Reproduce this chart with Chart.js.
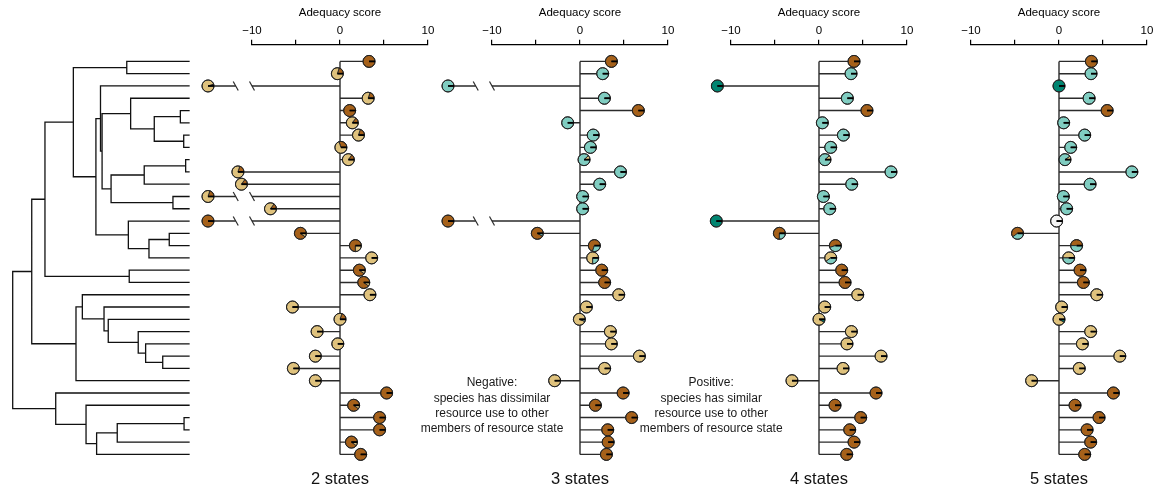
<!DOCTYPE html>
<html><head><meta charset="utf-8">
<script src="https://cdn.jsdelivr.net/npm/chart.js@4.4.1/dist/chart.umd.min.js"></script>
<style>
html,body{margin:0;padding:0;background:#fff;overflow:hidden;width:1154px;height:490px}
#wrap{position:relative;width:1154px;height:490px;overflow:hidden;background:#fff}
canvas{position:absolute;top:0}
</style></head><body><div id="wrap"></div>
<script>
// ---------------- data ----------------
const panelTitles = ["2 states", "3 states", "4 states", "5 states"];
const axisTitle = "Adequacy score";
const tickValues = [-10, -5, 0, 5, 10];
const tickLabels = ["\u221210", "", "0", "", "10"];

// adequacy score per species (rows top to bottom); values far below the axis are shown with a break
const score2 = [3.3, -0.3, -20, 3.2, 1.1, 1.4, 2.1, 0.1, 0.95, -11.6, -11.2, -20, -7.9, -20, -4.5, 1.75, 3.6, 2.2, 2.7, 3.4, -5.4, 0.0, -2.6, -0.25, -2.8, -5.3, -2.8, 5.3, 1.55, 4.5, 4.5, 1.3, 2.35];
const score3 = [3.57, 2.58, -20, 2.77, 6.63, -1.4, 1.5, 1.18, 0.46, 4.6, 2.24, 0.3, 0.3, -20, -4.85, 1.63, 1.44, 2.47, 2.8, 4.4, 0.72, -0.07, 3.45, 3.56, 6.75, 2.8, -2.88, 4.9, 1.75, 5.87, 3.15, 3.2, 3.0];
const score4 = [3.98, 3.64, -11.55, 3.22, 5.45, 0.38, 2.77, 1.33, 0.68, 8.18, 3.72, 0.5, 1.22, -11.67, -4.5, 1.86, 1.33, 2.58, 2.96, 4.4, 0.65, 0.0, 3.68, 3.18, 7.05, 2.73, -3.07, 6.48, 1.82, 4.74, 3.49, 3.98, 3.15];
const score5 = [3.68, 3.64, 0.0, 3.42, 5.47, 0.53, 2.92, 1.33, 0.68, 8.28, 3.53, 0.49, 0.87, -0.27, -4.71, 2.0, 1.1, 2.39, 2.77, 4.29, 0.3, 0.0, 3.6, 2.66, 6.91, 2.3, -3.11, 6.18, 1.82, 4.55, 3.19, 3.6, 2.92];

// resource-state composition of each pie (B brown, T tan, C teal, D dark teal, W white)
const pie2 = ["B", "T.8 B.2", "T.95 B.05", "T.8 B.2", "B", "T.85 B.15", "T.8 B.2", "T.7 B.3", "T.85 B.15", "T.8 B.2", "T.85 B.15", "T.8 B.2", "T.85 B.15", "B", "B.9 T.1", "B.75 T.25", "T", "B.9 T.1", "B.9 T.1", "T", "T", "T.8 B.2", "T", "T", "T", "T", "T", "B", "B.9 T.1", "B", "B", "B.9 T.1", "B"];
const pie3 = ["B", "C", "C", "C", "B", "C", "C", "C", "T.12 C.88", "C", "C", "C", "C", "B", "B.92 C.08", "B.7 C.3", "T.75 C.25", "B", "B", "T", "T", "T.94 C.06", "T", "T", "T", "T", "T", "B", "B", "B", "B", "B", "B"];
const pie4 = ["B", "C", "D", "C", "B", "C", "C", "C", "T.12 C.88", "C", "C", "C", "C", "D", "B.75 C.25", "B.55 C.45", "T.6 C.4", "B", "B", "T", "T", "T.92 D.08", "T", "T", "T", "T", "T", "B", "B", "B", "B", "B", "B"];
const pie5 = ["B", "C", "D", "C", "B", "C", "C", "C", "T.1 C.9", "C", "C", "C", "C", "W", "B.6 C.4", "B.5 C.5", "T.5 C.5", "B", "B", "T", "T", "T.92 D.08", "T", "T", "T", "T", "T", "B", "B", "B", "B", "B", "B"];

// phylogeny: [node depth (root 0, tips 1), child, child]; leaves are row numbers
const tree = [0,
  [0.108,
    [0.183,
      [0.344,
        [0.647, 1, 2],
        [0.472,
          [0.498, 3,
            [0.507,
              [0.669, 4, [0.803, [0.951, 5, 6], [0.970, 7, 8]]],
              [0.558, [0.746, [0.981, 9, 10], 11], [0.909, 12, 13]]]],
          [0.656, 14, [0.773, [0.888, 15, 16], 17]]]],
      [0.661, 18, 19]],
    [0.359, [0.395, 20, [0.518, 21, [0.542, 22, [0.712, 23, [0.754, 24, [0.851, 25, 26]]]]]], 27]],
  [0.244, 28, [0.416, 29, [0.476, [0.593, [0.972, 30, 31], 32], 33]]]];

const noteNegative = ["Negative:", "species has dissimilar", "resource use to other", "members of resource state"];
const notePositive = ["Positive:", "species has similar", "resource use to other", "members of resource state"];

// ---------------- style / layout ----------------
const COLORS = {B: "#a6611a", T: "#dfc27d", C: "#80cdc1", D: "#018571", W: "#f5f5f5"};
const STATE_ORDER = "BTCDW";
const FONT = '"Liberation Sans", Arial, Helvetica, sans-serif';
const ZERO_PX = [340.3, 580.3, 819.3, 1059];
const HALF_W = 185;
const AREA_HALF = 88;
const Y_MIN = -0.36, Y_MAX = 33.31;
const BREAK_LIMIT = -14, BREAK_PLOT = -15, BREAK_GAP = [-11.85, -10];
const PIE_R = 6;
const LINE_COL = "#2b2b2b";

Chart.defaults.font.family = FONT;
Chart.defaults.color = "#000";

function parsePie(spec) {
  const toks = spec.split(" ");
  let used = 0; const out = [];
  toks.forEach(t => { const f = t.length > 1 ? parseFloat(t.slice(1)) : null; out.push([t[0], f]); if (f !== null) used += f; });
  out.forEach(s => { if (s[1] === null) s[1] = Math.max(0, 1 - used); });
  out.sort((a, b) => STATE_ORDER.indexOf(a[0]) - STATE_ORDER.indexOf(b[0]));
  return out;
}

function drawPie(ctx, cx, cy, r, slices) {
  let a = 0;
  ctx.lineJoin = "round";
  for (const [st, f] of slices) {
    if (f <= 0) continue;
    const a1 = a - f * 2 * Math.PI;
    ctx.beginPath(); ctx.moveTo(cx, cy); ctx.arc(cx, cy, r, a, a1, true); ctx.closePath();
    ctx.fillStyle = COLORS[st]; ctx.fill();
    ctx.lineWidth = 0.9; ctx.strokeStyle = "#222"; ctx.stroke();
    a = a1;
  }
  ctx.beginPath(); ctx.arc(cx, cy, r, 0, 2 * Math.PI);
  ctx.lineWidth = 1; ctx.strokeStyle = "#222"; ctx.stroke();
  ctx.beginPath(); ctx.moveTo(cx, cy); ctx.lineTo(cx + r, cy);
  ctx.lineWidth = 1.8; ctx.strokeStyle = "#000"; ctx.stroke();
}

const piePlugin = {
  id: "pies",
  afterDatasetsDraw(chart) {
    const p = chart.options.plugins.pies;
    if (!p || !p.scores) return;
    const ctx = chart.ctx, xs = chart.scales.x, ys = chart.scales.y;
    ctx.save();
    p.scores.forEach((v, i) => {
      if (v < BREAK_LIMIT) {
        const y = ys.getPixelForValue(i + 1);
        BREAK_GAP.forEach(g => {
          const x = xs.getPixelForValue(g);
          ctx.beginPath(); ctx.moveTo(x - 2.5, y - 4.5); ctx.lineTo(x + 2.5, y + 4.5);
          ctx.lineWidth = 1.2; ctx.strokeStyle = LINE_COL; ctx.stroke();
        });
      }
    });
    const meta = chart.getDatasetMeta(2);
    meta.data.forEach((el, i) => drawPie(ctx, el.x, el.y, PIE_R, parsePie(p.pies[i])));
    if (p.note) {
      ctx.font = "12px " + FONT; ctx.fillStyle = "#1a1a1a"; ctx.textAlign = "center"; ctx.textBaseline = "middle";
      const x = xs.getPixelForValue(p.noteX), y0 = ys.getPixelForValue(p.noteRow);
      p.note.forEach((t, k) => ctx.fillText(t, x, y0 + k * 15.2));
    }
    ctx.restore();
  }
};

const wrap = document.getElementById("wrap");
function makeCanvas(left, w) {
  const c = document.createElement("canvas");
  c.width = w; c.height = 490; c.style.left = left + "px"; c.style.width = w + "px"; c.style.height = "490px";
  wrap.appendChild(c); return c;
}

const scores = [score2, score3, score4, score5];
const pies = [pie2, pie3, pie4, pie5];
const notes = [null, noteNegative, notePositive, null];
const noteXs = [0, -10.0, -12.25, 0];
const charts = [];

scores.forEach((sc, pi) => {
  const stems = [];
  sc.forEach((v, i) => {
    const r = i + 1;
    if (v < BREAK_LIMIT) {
      stems.push({x: 0, y: r}, {x: BREAK_GAP[1], y: r}, {x: null, y: null});
      stems.push({x: BREAK_GAP[0], y: r}, {x: BREAK_PLOT, y: r}, {x: null, y: null});
    } else {
      stems.push({x: 0, y: r}, {x: v, y: r}, {x: null, y: null});
    }
  });
  const axisLine = [{x: 0, y: 1}, {x: 0, y: sc.length}];
  const piePts = sc.map((v, i) => ({x: v < BREAK_LIMIT ? BREAK_PLOT : v, y: i + 1}));
  const cv = makeCanvas(ZERO_PX[pi] - HALF_W, HALF_W * 2);
  charts.push(new Chart(cv, {
    type: "scatter",
    data: {datasets: [
      {data: axisLine, showLine: true, borderColor: LINE_COL, borderWidth: 1.4, pointRadius: 0, clip: false, spanGaps: false},
      {data: stems, showLine: true, borderColor: LINE_COL, borderWidth: 1.4, pointRadius: 0, clip: false, spanGaps: false},
      {data: piePts, showLine: false, pointRadius: 0, clip: false}
    ]},
    options: {
      responsive: false, animation: false, devicePixelRatio: 1, events: [],
      layout: {padding: {top: 6.1, bottom: 1, left: HALF_W - AREA_HALF, right: HALF_W - AREA_HALF}},
      scales: {
        x: {
          type: "linear", position: "top", min: -10, max: 10,
          afterBuildTicks: s => { s.ticks = tickValues.map(v => ({value: v})); },
          ticks: {autoSkip: false, maxRotation: 0, padding: 2, color: "#000", font: {size: 11.5},
            callback: (v) => tickLabels[tickValues.indexOf(v)]},
          grid: {drawOnChartArea: false, drawTicks: true, tickLength: 5, color: "#000", lineWidth: 1.2},
          border: {display: true, color: "#000", width: 1.2},
          title: {display: true, text: axisTitle, color: "#000", font: {size: 11.5}, padding: {top: 0, bottom: 2}}
        },
        y: {type: "linear", display: false, reverse: true, min: Y_MIN, max: Y_MAX}
      },
      plugins: {
        legend: {display: false}, tooltip: {enabled: false},
        title: {display: true, position: "bottom", text: panelTitles[pi], color: "#111", font: {size: 16.5, weight: "normal"}, padding: {top: 11, bottom: 0}},
        pies: {scores: sc, pies: pies[pi], note: notes[pi], noteX: noteXs[pi], noteRow: 27.2}
      }
    },
    plugins: [piePlugin]
  }));
});

// tree
const treeSegs = [];
function layoutTree(node, parentDepth) {
  if (typeof node === "number") {
    treeSegs.push({x: parentDepth, y: node}, {x: 1, y: node}, {x: null, y: null});
    return node;
  }
  const [d, a, b] = node;
  const ya = layoutTree(a, d), yb = layoutTree(b, d);
  const y = (ya + yb) / 2;
  treeSegs.push({x: d, y: ya}, {x: d, y: yb}, {x: null, y: null});
  if (parentDepth !== null) treeSegs.push({x: parentDepth, y: y}, {x: d, y: y}, {x: null, y: null});
  return y;
}
layoutTree(tree, null);
const area = charts[0].chartArea;
const tcv = makeCanvas(0, 200);
new Chart(tcv, {
  type: "scatter",
  data: {datasets: [{data: treeSegs, showLine: true, borderColor: "#111", borderWidth: 1.3, pointRadius: 0, clip: false, spanGaps: false, borderCapStyle: "square"}]},
  options: {
    responsive: false, animation: false, devicePixelRatio: 1, events: [],
    layout: {padding: {top: area.top, bottom: 490 - area.bottom, left: 12.7, right: 11}},
    scales: {
      x: {type: "linear", display: false, min: 0, max: 1},
      y: {type: "linear", display: false, reverse: true, min: Y_MIN, max: Y_MAX}
    },
    plugins: {legend: {display: false}, tooltip: {enabled: false}}
  }
});
</script></body></html>
